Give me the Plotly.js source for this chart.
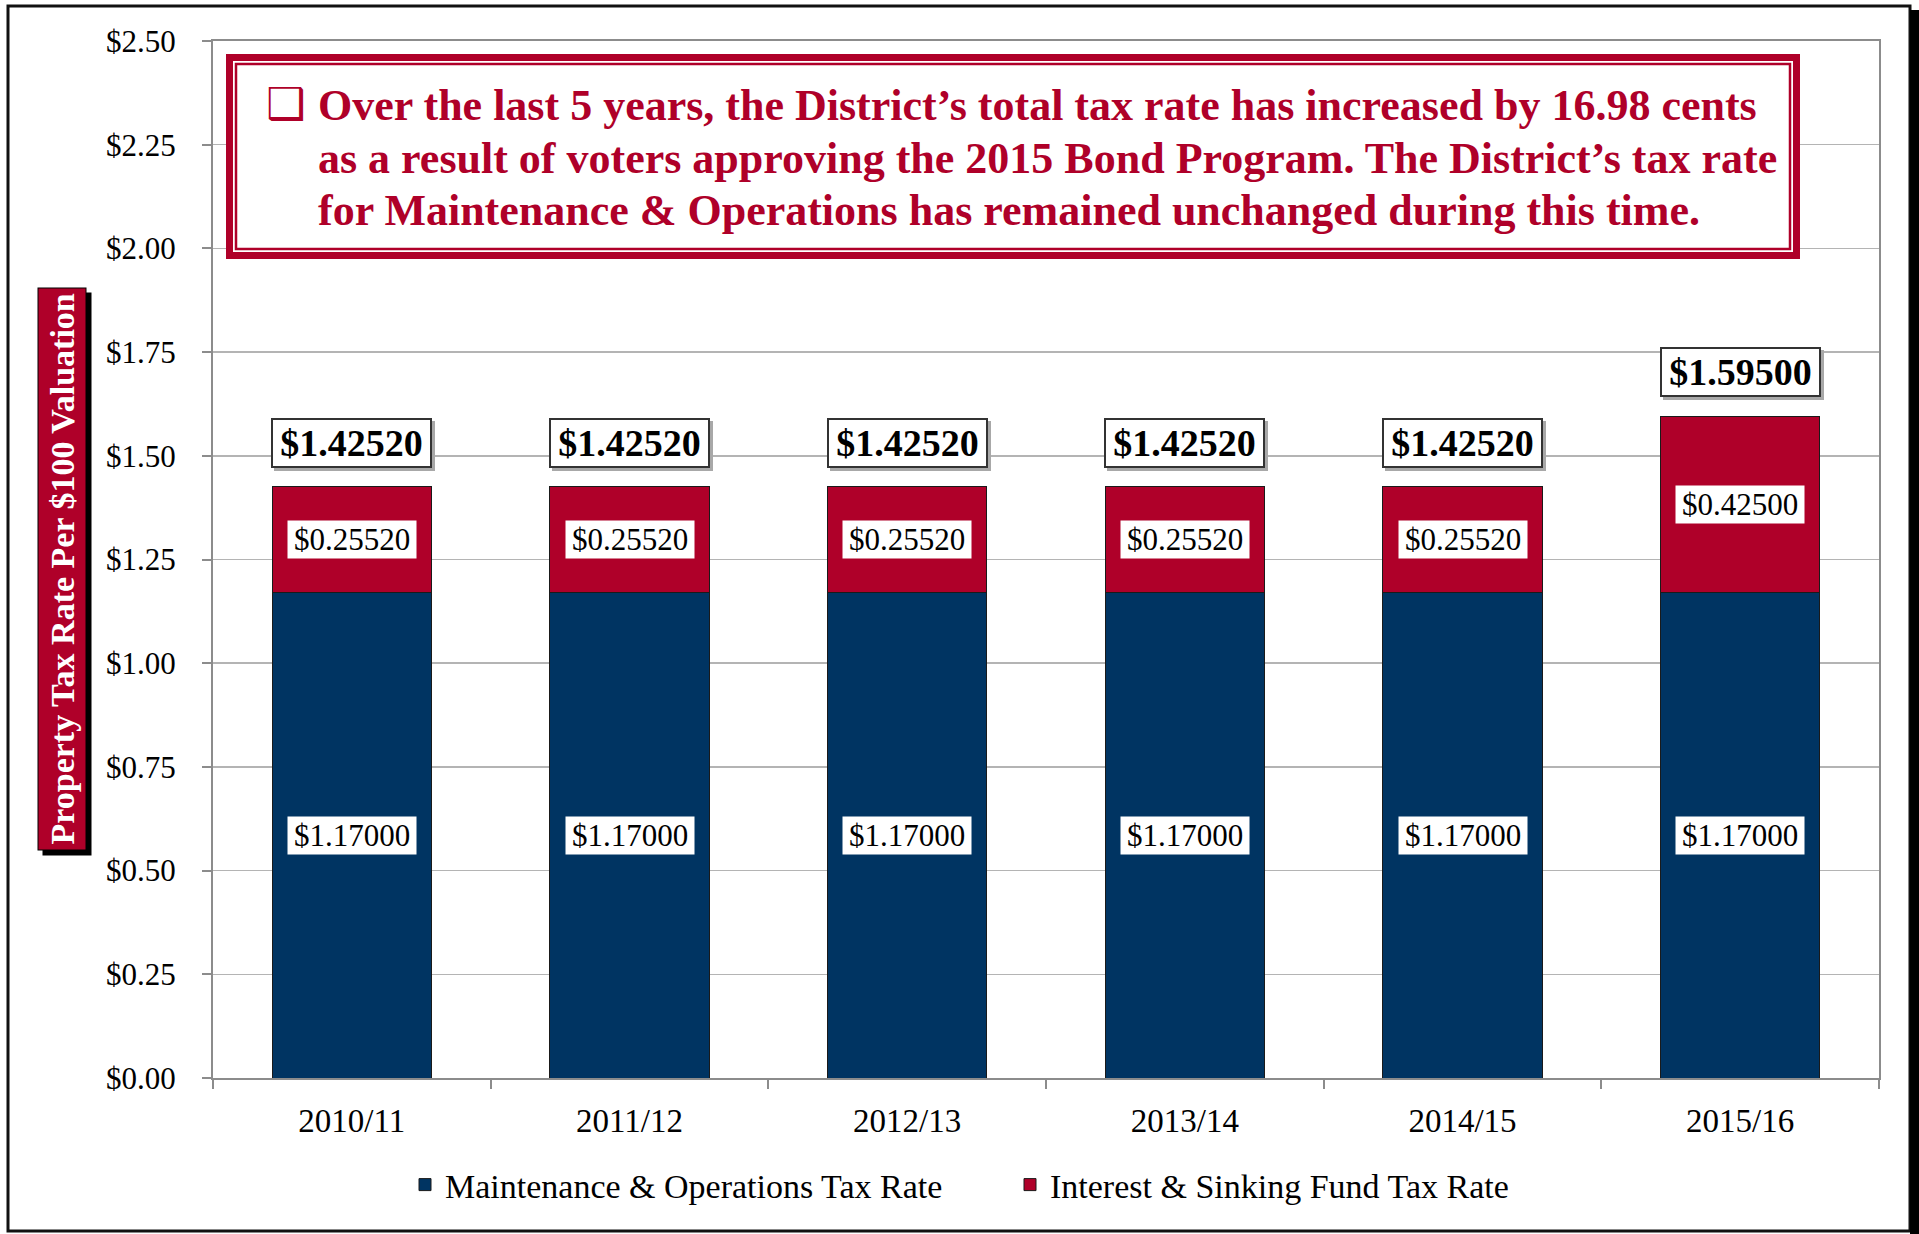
<!DOCTYPE html>
<html>
<head>
<meta charset="utf-8">
<script src="https://cdn.plot.ly/plotly-3.0.1.min.js"></script>
<style>
html,body{margin:0;padding:0;background:#fff;}
#chart{width:1919px;height:1234px;}
</style>
</head>
<body>
<div id="chart"></div>
<script>
// ---- data ----
const years = ['2010/11', '2011/12', '2012/13', '2013/14', '2014/15', '2015/16'];
const moRate = [1.17, 1.17, 1.17, 1.17, 1.17, 1.17];          // Maintenance & Operations
const isRate = [0.2552, 0.2552, 0.2552, 0.2552, 0.2552, 0.425]; // Interest & Sinking Fund
const yTickVals = [0, 0.25, 0.5, 0.75, 1.0, 1.25, 1.5, 1.75, 2.0, 2.25, 2.5];
const yTickText = yTickVals.map(v => '$' + v.toFixed(2));
const seriesNames = ['Maintenance & Operations Tax Rate', 'Interest & Sinking Fund Tax Rate'];
const calloutLines = [
  'Over the last 5 years, the District\u2019s total tax rate has increased by 16.98 cents',
  'as a result of voters approving the 2015 Bond Program. The District\u2019s tax rate',
  'for Maintenance &amp; Operations has remained unchanged during this time.'
];
const yTitle = 'Property Tax Rate Per $100 Valuation';

// ---- style ----
const NAVY = '#003462';
const RED = '#AF0029';
const SERIF = 'Liberation Serif, Times New Roman, serif';
const W = 1919, H = 1234;
const M = {l: 213, r: 40, t: 41, b: 156};
const PW = W - M.l - M.r, PH = H - M.t - M.b;
const px = v => (v - M.l) / PW;          // pixel x -> paper x
const py = v => (H - M.b - v) / PH;      // pixel y -> paper y
const money = v => '$' + v.toFixed(5);

const totals = years.map((_, i) => moRate[i] + isRate[i]);

const traces = [
  {type: 'bar', name: seriesNames[0], x: years, y: moRate,
   marker: {color: NAVY, line: {color: '#1a1a1a', width: 1}}, hoverinfo: 'skip'},
  {type: 'bar', name: seriesNames[1], x: years, y: isRate,
   marker: {color: RED, line: {color: '#1a1a1a', width: 1}}, hoverinfo: 'skip'}
];

const annotations = [];
years.forEach((yr, i) => {
  // segment labels
  annotations.push({x: yr, y: moRate[i] / 2, xref: 'x', yref: 'y', text: money(moRate[i]),
    xanchor: 'center', yanchor: 'middle',
    showarrow: false, bgcolor: '#fff', borderpad: 1, width: 126,
    font: {family: SERIF, size: 31, color: '#000'}});
  annotations.push({x: yr, y: moRate[i] + isRate[i] / 2, xref: 'x', yref: 'y', text: money(isRate[i]),
    xanchor: 'center', yanchor: 'middle',
    showarrow: false, bgcolor: '#fff', borderpad: 1, width: 126,
    font: {family: SERIF, size: 31, color: '#000'}});
  // total label shadow
  annotations.push({x: yr, y: totals[i], xref: 'x', yref: 'y', xanchor: 'center', yanchor: 'bottom',
    yshift: 16, xshift: 3,
    text: '<b>' + money(totals[i]) + '</b>', showarrow: false, bgcolor: '#a8a8a8',
    bordercolor: '#a8a8a8', borderwidth: 2, borderpad: 2, width: 153,
    font: {family: SERIF, size: 38, color: '#a8a8a8'}});
  // total label
  annotations.push({x: yr, y: totals[i], xref: 'x', yref: 'y', xanchor: 'center', yanchor: 'bottom',
    yshift: 19,
    text: '<b>' + money(totals[i]) + '</b>', showarrow: false, bgcolor: '#fff',
    bordercolor: '#333', borderwidth: 2, borderpad: 2, width: 153,
    font: {family: SERIF, size: 38, color: '#000'}});
});

// y-axis title in red box with shadow
annotations.push({xref: 'paper', yref: 'paper', x: px(62.5), y: py(569), xanchor: 'center', yanchor: 'middle',
  xshift: 5, yshift: -5,
  text: '<b>' + yTitle + '</b>', textangle: -90, showarrow: false,
  bgcolor: '#000', bordercolor: '#000', borderwidth: 1, borderpad: 5,
  font: {family: SERIF, size: 34, color: '#000'}});
annotations.push({xref: 'paper', yref: 'paper', x: px(62.5), y: py(569), xanchor: 'center', yanchor: 'middle',
  text: '<b>' + yTitle + '</b>', textangle: -90, showarrow: false,
  bgcolor: RED, bordercolor: '#000', borderwidth: 1, borderpad: 5,
  font: {family: SERIF, size: 34, color: '#fff'}});

// callout text
annotations.push({xref: 'paper', yref: 'paper', x: px(264), y: py(103), xanchor: 'left', yanchor: 'middle',
  text: '<b>\u2751</b>', showarrow: false, font: {family: 'DejaVu Sans, sans-serif', size: 44, color: RED}});
const lineY = [105, 158, 210];
calloutLines.forEach((ln, k) => {
  annotations.push({xref: 'paper', yref: 'paper', x: px(316), y: py(lineY[k]), xanchor: 'left', yanchor: 'middle',
    text: '<b>' + ln + '</b>', align: 'left', showarrow: false,
    font: {family: SERIF, size: 44, color: RED}});
});

const shapes = [
  // callout double frame
  {type: 'rect', xref: 'paper', yref: 'paper', layer: 'above',
   x0: px(229.5), x1: px(1796.5), y0: py(57.5), y1: py(255.5),
   line: {color: RED, width: 7}, fillcolor: '#fff'},
  {type: 'rect', xref: 'paper', yref: 'paper', layer: 'above',
   x0: px(236), x1: px(1790), y0: py(64), y1: py(249),
   line: {color: RED, width: 2.5}, fillcolor: 'rgba(0,0,0,0)'},
  // outer figure frame
  {type: 'rect', xref: 'paper', yref: 'paper', layer: 'above',
   x0: px(8), x1: px(1910), y0: py(6), y1: py(1231),
   line: {color: '#111', width: 3}, fillcolor: 'rgba(0,0,0,0)'},
  {type: 'rect', xref: 'paper', yref: 'paper', layer: 'above',
   x0: px(1910), x1: px(1930), y0: py(10), y1: py(1245),
   line: {width: 0}, fillcolor: '#000'}
];

const layout = {
  width: W, height: H,
  margin: M,
  paper_bgcolor: '#fff', plot_bgcolor: '#fff',
  barmode: 'stack',
  bargap: 0.427,
  showlegend: true,
  legend: {orientation: 'h', x: px(405), xanchor: 'left', y: py(1185), yanchor: 'middle',
    entrywidth: 560, entrywidthmode: 'pixels',
    font: {family: SERIF, size: 34, color: '#000'}, traceorder: 'normal', itemclick: false},
  font: {family: SERIF, color: '#000'},
  xaxis: {
    type: 'category', showgrid: false, showline: true, mirror: true,
    linecolor: '#8c8c8c', linewidth: 2, ticks: 'outside', tickson: 'boundaries',
    ticklen: 9, tickwidth: 2, tickcolor: '#8c8c8c', ticklabelstandoff: 12,
    tickfont: {family: SERIF, size: 33, color: '#000'}
  },
  yaxis: {
    range: [0, 2.5], tickmode: 'array', tickvals: yTickVals, ticktext: yTickText,
    showgrid: true, gridcolor: '#b4b4b4', gridwidth: 1.5,
    showline: true, mirror: true, linecolor: '#8c8c8c', linewidth: 2,
    ticks: 'outside', ticklen: 9, tickwidth: 2, tickcolor: '#8c8c8c', ticklabelstandoff: 20,
    zeroline: false,
    tickfont: {family: SERIF, size: 31, color: '#000'}
  },
  annotations: annotations,
  shapes: shapes
};

Plotly.newPlot('chart', traces, layout, {staticPlot: true, displayModeBar: false});
</script>
</body>
</html>
